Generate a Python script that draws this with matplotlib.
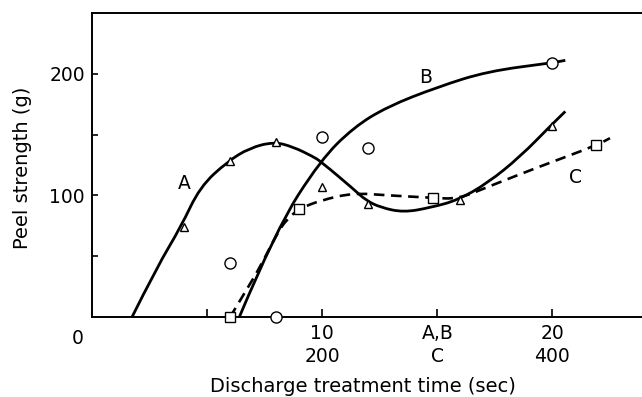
import numpy as np
import matplotlib
matplotlib.use('Agg')
import matplotlib.pyplot as plt
from matplotlib.path import Path
from matplotlib.patches import PathPatch
import matplotlib.transforms as mtransforms

# measured points, A and B time in sec (upper scale), C time in sec (lower scale)
a_t = [4, 6, 8, 10, 12, 16, 20]
a_peel = [74, 128, 144, 107, 93, 96, 157]
b_t = [6, 8, 10, 12, 20]
b_peel = [44, 0, 148, 139, 209]
c_t = [120, 180, 296, 438]
c_peel = [0, 89, 98, 141]

# hand drawn trend lines
a_line_t = [1.74, 2.82, 3.86, 4.69, 5.9, 6.85, 7.9, 8.72, 9.59, 9.93, 11.37, 11.89,
            12.54, 13.54, 14.71, 15.88, 17.18, 18.61, 19.91, 20.56]
a_line_peel = [0, 41, 74, 107, 128, 139, 144, 140, 132, 128, 105, 96,
               90, 86, 90, 96, 110, 132, 157, 169]
b_line_t = [6.4, 8.0, 9.93, 11.37, 12.84, 15.0, 17.18, 20.0, 20.56]
b_line_peel = [0, 72, 129, 156, 173, 189, 202, 209, 211]
c_line_t = [120, 134, 146, 161, 169, 180, 199, 227, 257, 296, 318, 344, 387, 438, 450]
c_line_peel = [0, 22, 41, 69, 80, 89, 96, 102, 100, 98, 97, 107, 123, 141, 147]


def smooth_path(xs, ys):
    # quadratic bezier through midpoints, drawn by matplotlib
    pts = list(zip(xs, ys))
    verts = [pts[0]]
    codes = [Path.MOVETO]
    for i in range(1, len(pts) - 1):
        mid = ((pts[i][0] + pts[i + 1][0]) / 2, (pts[i][1] + pts[i + 1][1]) / 2)
        verts += [pts[i], mid]
        codes += [Path.CURVE3, Path.CURVE3]
    verts.append(pts[-1])
    codes.append(Path.LINETO)
    return Path(verts, codes)


plt.rcParams['font.family'] = 'DejaVu Sans'
fig = plt.figure(figsize=(6.42, 3.97), dpi=100)
ax = fig.add_axes([0.1433, 0.2015, 0.857, 0.766])

c_line_x = np.array(c_line_t) / 20
c_x = np.array(c_t) / 20

ax.add_patch(PathPatch(smooth_path(a_line_t, a_line_peel), fill=False, lw=2.0, color='black'))
ax.add_patch(PathPatch(smooth_path(b_line_t, b_line_peel), fill=False, lw=2.0, color='black'))
ax.add_patch(PathPatch(smooth_path(c_line_x, c_line_peel), fill=False, lw=1.9, color='black',
                       linestyle=(0, (4, 2.5))))

ax.plot(a_t, a_peel, '^', ms=6, mfc='white', mec='black', mew=1.0, clip_on=False, zorder=5)
ax.plot(b_t, b_peel, 'o', ms=8, mfc='white', mec='black', mew=1.0, clip_on=False, zorder=5)
ax.plot(c_x, c_peel, 's', ms=7, mfc='white', mec='black', mew=1.0, clip_on=False, zorder=5)

ax.text(4.0, 110, 'A', fontsize=13.5, ha='center', va='center')
ax.text(14.5, 197, 'B', fontsize=13.5, ha='center', va='center')
ax.text(21.0, 115, 'C', fontsize=13.5, ha='center', va='center')

ax.set_xlim(0, 23.9)
ax.set_ylim(0, 250)

ax.set_xticks([5, 10, 15, 20])
ax.set_xticklabels(['', '10\n200', 'A,B\nC', '20\n400'], fontsize=13.5, linespacing=1.25)
ax.set_yticks([50, 100, 150, 200])
ax.set_yticklabels(['', '100', '', '200'], fontsize=13.5)
ax.tick_params(axis='x', direction='in', length=6, width=1.2, pad=5)
ax.tick_params(axis='y', direction='in', length=4, width=1.2, pad=5)

trans = mtransforms.blended_transform_factory(ax.transData, ax.transAxes)
ax.text(-0.6, -0.07, '0', transform=trans, fontsize=13.5, ha='center', va='center')

ax.spines['right'].set_visible(False)
for s in ['top', 'bottom', 'left']:
    ax.spines[s].set_linewidth(1.4)

ax.set_xlabel('Discharge treatment time (sec)', fontsize=14)
ax.set_ylabel('Peel strength (g)', fontsize=14)
ax.xaxis.set_label_coords(0.493, -0.197)
ax.yaxis.set_label_coords(-0.109, 0.49)

fig.savefig('out.png', dpi=100)
